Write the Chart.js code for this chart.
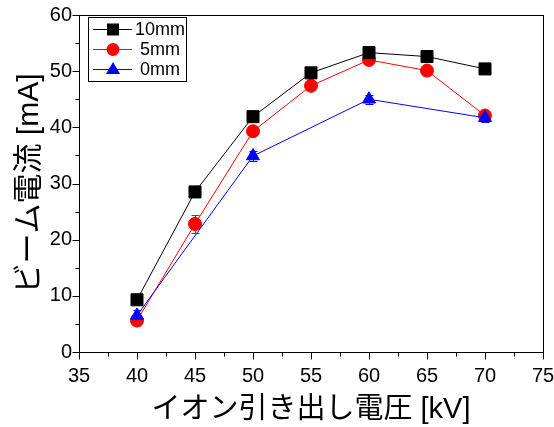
<!DOCTYPE html>
<html>
<head>
<meta charset="utf-8">
<script src="https://cdn.jsdelivr.net/npm/chart.js@4/dist/chart.umd.min.js"></script>
<style>
  body { margin: 0; background: #fff; }
  #wrap { width: 554px; height: 427px; }
</style>
</head>
<body>
<div id="wrap"><canvas id="beamChart" width="554" height="427"></canvas></div>
<script>
// extraction voltage [kV]
const voltage = [40, 45, 50, 55, 60, 65, 70];
const voltageBlue = [40, 50, 60, 70];

// beam current [mA]
const current10mm = [9.3, 28.5, 41.9, 49.7, 53.3, 52.6, 50.4];
const current5mm = [5.6, 22.8, 39.3, 47.4, 52.0, 50.1, 42.1];
const current0mm = [6.5, 34.9, 45.0, 41.7];

// error bars (+/-)
const err10mm = [0.5, 0.9, 0.6, 0.4, 0.4, 0.3, 0.3];
const err5mm = [0.6, 1.6, 0.5, 0.4, 0.4, 0.4, 0.5];
const err0mm = [1.0, 0.9, 0.8, 0.8];

const seriesNames = ["10mm", "5mm", "0mm"];
const xTickLabels = [35, 40, 45, 50, 55, 60, 65, 70, 75];
const yTickLabels = [0, 10, 20, 30, 40, 50, 60];

const fontLatin = "'Liberation Sans', Arial, 'Noto Sans CJK JP'";

function pts(xs, ys) {
    return xs.map((x, i) => ({ x: x, y: ys[i] }));
}

function drawMarker(ctx, style, r, x, y) {
    ctx.beginPath();
    if (style === "rect") {
        ctx.rect(x - 6, y - 6, 12, 12);
    } else if (style === "triangle") {
        ctx.moveTo(x, y - r);
        ctx.lineTo(x + r * 0.95, y + r * 0.6);
        ctx.lineTo(x - r * 0.95, y + r * 0.6);
        ctx.closePath();
    } else {
        ctx.arc(x, y, r, 0, Math.PI * 2);
    }
    ctx.fill();
}

//error bars, ticks, frame, legend
const extras = {
    id: "extras",
    beforeDatasetsDraw(chart) {
        const ctx = chart.ctx;
        const xs = chart.scales.x, ys = chart.scales.y;
        const errs = [err10mm, err5mm, err0mm];
        ctx.save();
        chart.data.datasets.forEach((ds, di) => {
            ctx.strokeStyle = ds.borderColor;
            ctx.lineWidth = 1;
            ds.data.forEach((p, i) => {
                const e = errs[di][i];
                const px = Math.round(xs.getPixelForValue(p.x)) + 0.5;
                const top = Math.round(ys.getPixelForValue(p.y + e)) + 0.5;
                const bot = Math.round(ys.getPixelForValue(p.y - e)) + 0.5;
                ctx.beginPath();
                ctx.moveTo(px, top); ctx.lineTo(px, bot);
                ctx.moveTo(px - 4, top); ctx.lineTo(px + 4, top);
                ctx.moveTo(px - 4, bot); ctx.lineTo(px + 4, bot);
                ctx.stroke();
            });
        });
        ctx.restore();
    },
    afterDraw(chart) {
        const ctx = chart.ctx;
        const a = chart.chartArea;
        const xs = chart.scales.x, ys = chart.scales.y;
        ctx.save();
        ctx.strokeStyle = "#000";
        ctx.lineWidth = 1;
        ctx.strokeRect(Math.round(a.left) + 0.5, Math.round(a.top) + 0.5,
            Math.round(a.right - a.left), Math.round(a.bottom - a.top));
        ctx.beginPath();
        const b = Math.round(a.bottom) + 0.5, l = Math.round(a.left) + 0.5;
        xs.ticks.forEach(t => {
            const px = Math.round(xs.getPixelForValue(t.value)) + 0.5;
            const len = t.value % 5 === 0 ? 7 : 4;
            ctx.moveTo(px, b); ctx.lineTo(px, b + len);
        });
        ys.ticks.forEach(t => {
            const py = Math.round(ys.getPixelForValue(t.value)) + 0.5;
            const len = t.value % 10 === 0 ? 7 : 4;
            ctx.moveTo(l, py); ctx.lineTo(l - len, py);
        });
        ctx.stroke();

        // legend box
        const bx = 88, by = 17, bw = 98, bh = 64;
        ctx.fillStyle = "#fff";
        ctx.fillRect(bx, by, bw, bh);
        ctx.strokeRect(bx + 0.5, by + 0.5, bw, bh);
        chart.data.datasets.forEach((ds, i) => {
            const y = by + 12.5 + i * 20;
            ctx.strokeStyle = ds.borderColor;
            ctx.beginPath();
            ctx.moveTo(bx + 5, y); ctx.lineTo(bx + 44, y);
            ctx.stroke();
            ctx.fillStyle = ds.pointBackgroundColor;
            drawMarker(ctx, ds.pointStyle, ds.pointStyle === "circle" ? 6.5 : 7.5, bx + 25, y);
            ctx.fillStyle = "#000";
            ctx.font = "18px " + fontLatin;
            ctx.textAlign = "center";
            ctx.textBaseline = "middle";
            ctx.fillText(seriesNames[i], bx + 72, y + 1);
        });
        ctx.restore();
    }
};

const ctx = document.getElementById("beamChart").getContext("2d");

new Chart(ctx, {
    type: "line",
    data: {
        datasets: [
            {
                data: pts(voltage, current10mm),
                borderColor: "#000000",
                pointBackgroundColor: "#000000",
                pointBorderColor: "#000000",
                pointStyle: "rect",
                pointRadius: 8.5,
                borderWidth: 1,
                order: 1
            },
            {
                data: pts(voltage, current5mm),
                borderColor: "#ff0000",
                pointBackgroundColor: "#ff0000",
                pointBorderColor: "#ff0000",
                pointStyle: "circle",
                pointRadius: 6.5,
                borderWidth: 1,
                order: 2
            },
            {
                data: pts(voltageBlue, current0mm),
                borderColor: "#0000ff",
                pointBackgroundColor: "#0000ff",
                pointBorderColor: "#0000ff",
                pointStyle: "triangle",
                pointRadius: 7.5,
                borderWidth: 1,
                order: 0
            }
        ]
    },
    options: {
        responsive: false,
        animation: false,
        layout: { padding: { left: 12, right: 11, top: 15, bottom: 0 } },
        plugins: { legend: { display: false }, tooltip: { enabled: false } },
        scales: {
            x: {
                type: "linear",
                min: 35,
                max: 75,
                afterFit: s => { s.height = 75; s.paddingLeft = 0; s.paddingRight = 0; },
                afterBuildTicks: s => {
                    const t = [];
                    for (let v = 35; v <= 75; v += 2.5) t.push({ value: v });
                    s.ticks = t;
                },
                ticks: {
                    padding: 12,
                    color: "#000",
                    font: { size: 20, family: fontLatin },
                    maxRotation: 0,
                    autoSkip: false,
                    callback: v => xTickLabels.includes(v) ? String(v) : ""
                },
                grid: { drawOnChartArea: false, drawTicks: false },
                border: { display: false },
                title: {
                    display: true,
                    text: "イオン引き出し電圧 [kV]",
                    color: "#000",
                    font: { size: 29, family: fontLatin },
                    padding: { top: 0, bottom: 0 }
                }
            },
            y: {
                min: 0,
                max: 60,
                afterFit: s => { s.width = 67; s.paddingTop = 0; s.paddingBottom = 0; },
                afterBuildTicks: s => {
                    const t = [];
                    for (let v = 0; v <= 60; v += 5) t.push({ value: v });
                    s.ticks = t;
                },
                ticks: {
                    padding: 7,
                    color: "#000",
                    font: { size: 20, family: fontLatin },
                    autoSkip: false,
                    callback: v => yTickLabels.includes(v) ? String(v) : ""
                },
                grid: { drawOnChartArea: false, drawTicks: false },
                border: { display: false },
                title: {
                    display: true,
                    text: "ビーム電流 [mA]",
                    color: "#000",
                    font: { size: 30, family: fontLatin },
                    padding: { top: 0, bottom: 0 }
                }
            }
        }
    },
    plugins: [extras]
});
</script>
</body>
</html>
